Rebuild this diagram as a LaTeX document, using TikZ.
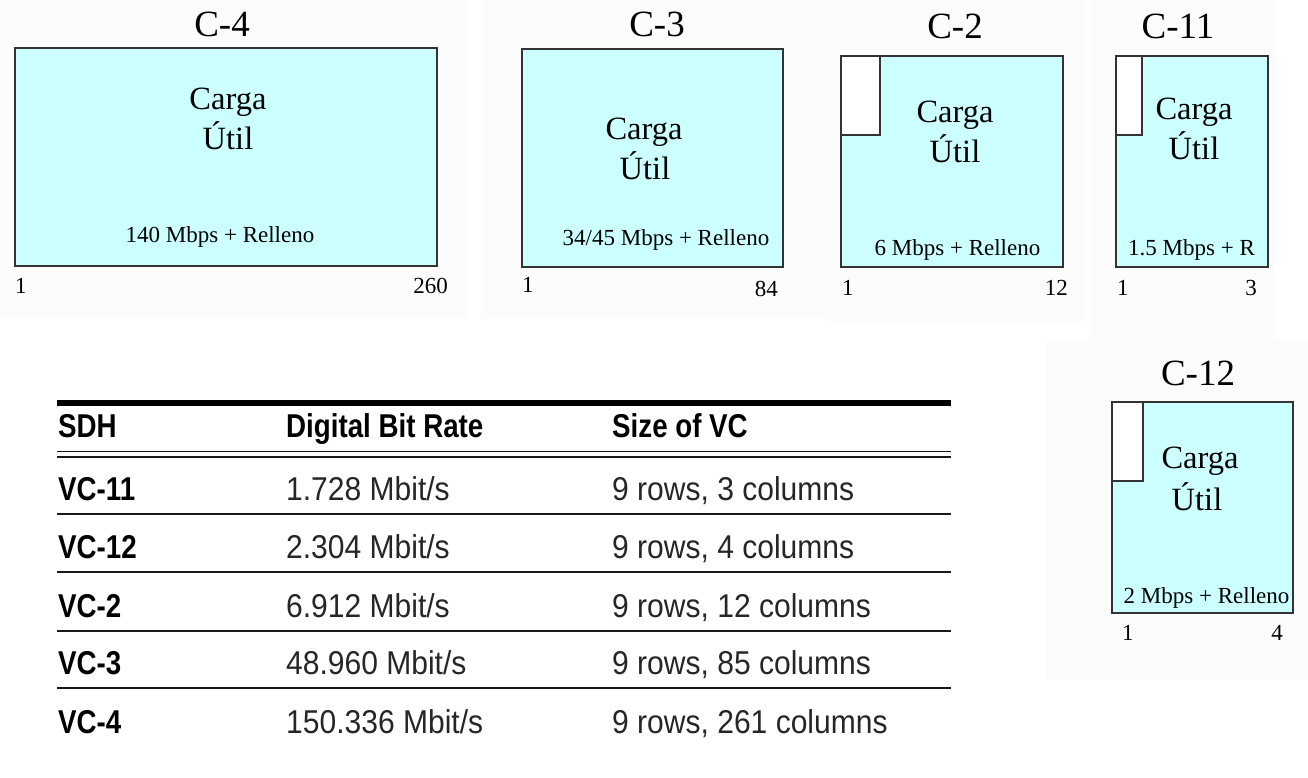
\documentclass[tikz,border=0pt]{standalone}
\usepackage{fontspec}
\setmainfont{Liberation Serif}
\newfontfamily\tabreg[FakeStretch=0.91]{Liberation Sans}
\newfontfamily\tabbold[FakeStretch=0.84]{Liberation Sans Bold}
\definecolor{cargafill}{HTML}{CCFFFF}
\definecolor{boxline}{HTML}{333333}
\definecolor{panel}{HTML}{FCFCFC}
\newcommand{\titlefont}{\fontsize{37}{40}\selectfont}
\newcommand{\cargafont}{\fontsize{32.5}{39}\selectfont}
\newcommand{\smallfont}{\fontsize{23}{26}\selectfont}
\newcommand{\tabfontsize}{\fontsize{33}{36}\selectfont}
\tikzset{
  payload/.style={draw=boxline, line width=1.4pt, fill=cargafill},
  overhead/.style={draw=boxline, line width=1.4pt, fill=white},
  ctitle/.style={anchor=base, inner sep=0pt, font=\titlefont},
  carga/.style={anchor=base, inner sep=0pt, font=\cargafont},
  rate/.style={anchor=base, inner sep=0pt, font=\smallfont},
  numl/.style={anchor=base west, inner sep=0pt, font=\smallfont},
  numr/.style={anchor=base east, inner sep=0pt, font=\smallfont},
  hdr/.style={anchor=base west, inner sep=0pt, font=\tabbold\tabfontsize},
  cell/.style={anchor=base west, inner sep=0pt, text=black!85, font=\tabreg\tabfontsize},
  rule/.style={draw=black!90, line width=1.5pt},
  thickrule/.style={draw=black, line width=5.5pt}
}
\begin{document}
\begin{tikzpicture}[x=1pt,y=-1pt]
\useasboundingbox (0,0) rectangle (1308,778);
% faint background panels
\fill[panel] (0,0) rectangle (468,318);
\fill[panel] (482,0) rectangle (828,318);
\fill[panel] (828,0) rectangle (1085,322);
\fill[panel] (1090,0) rectangle (1275,340);
\fill[panel] (1046,340) rectangle (1308,680);

% C-4
\node[ctitle] (t4) at (222,37) {C-4};
\draw[payload] (15,48) rectangle (437,266);
\node[carga] (c4a) at (228,110) {Carga};
\node[carga] (c4b) at (228,150) {Útil};
\node[rate] (r4) at (220,242) {140 Mbps + Relleno};
\node[numl] (n4a) at (15,293) {1};
\node[numr] (n4b) at (448,293) {260};

% C-3
\node[ctitle] (t3) at (657,37) {C-3};
\draw[payload] (522,49) rectangle (783,267);
\node[carga] (c3a) at (644,140) {Carga};
\node[carga] (c3b) at (645,180) {Útil};
\node[rate] (r3) at (666,245) {34/45 Mbps + Relleno};
\node[numl] (n3a) at (522,292) {1};
\node[numr] (n3b) at (778,296) {84};

% C-2
\node[ctitle] (t2) at (955,39) {C-2};
\draw[payload] (841,56) rectangle (1063,267);
\draw[overhead] (841,56) rectangle (880,135);
\node[carga] (c2a) at (955,123) {Carga};
\node[carga] (c2b) at (955,163) {Útil};
\node[rate] (r2) at (957.5,255) {6 Mbps + Relleno};
\node[numl] (n2a) at (842,295) {1};
\node[numr] (n2b) at (1068,295) {12};

% C-11
\node[ctitle] (t11) at (1178,39) {C-11};
\draw[payload] (1116,56) rectangle (1268,267);
\draw[overhead] (1116,56) rectangle (1142,135);
\node[carga] (c11a) at (1194,120) {Carga};
\node[carga] (c11b) at (1194,160) {Útil};
\node[rate] (r11) at (1191.5,255) {1.5 Mbps + R};
\node[numl] (n11a) at (1117,295) {1};
\node[numr] (n11b) at (1257,295) {3};

% C-12
\node[ctitle] (t12) at (1198,385) {C-12};
\draw[payload] (1112,402) rectangle (1293,613);
\draw[overhead] (1112,402) rectangle (1143,481);
\node[carga] (c12a) at (1200,468) {Carga};
\node[carga] (c12b) at (1197,510) {Útil};
\node[rate] (r12) at (1206.5,603) {2 Mbps + Relleno};
\node[numl] (n12a) at (1122,640) {1};
\node[numr] (n12b) at (1283,640) {4};

% table
\draw[thickrule] (57,403) -- (951,403);
\node[hdr] (h1) at (58,437) {SDH};
\node[hdr] (h2) at (286,437) {Digital Bit Rate};
\node[hdr] (h3) at (612,437) {Size of VC};
\draw[rule] (57,451.5) -- (951,451.5);
\draw[rule] (57,457) -- (951,457);

\node[hdr] (a1) at (58,500) {VC-11};
\node[cell] (b1) at (286,500) {1.728 Mbit/s};
\node[cell] (s1) at (612,500) {9 rows, 3 columns};
\draw[rule] (57,514) -- (951,514);

\node[hdr] (a2) at (58,558) {VC-12};
\node[cell] (b2) at (286,558) {2.304 Mbit/s};
\node[cell] (s2) at (612,558) {9 rows, 4 columns};
\draw[rule] (57,572) -- (951,572);

\node[hdr] (a3) at (58,617) {VC-2};
\node[cell] (b3) at (286,617) {6.912 Mbit/s};
\node[cell] (s3) at (612,617) {9 rows, 12 columns};
\draw[rule] (57,631) -- (951,631);

\node[hdr] (a4) at (58,674) {VC-3};
\node[cell] (b4) at (286,674) {48.960 Mbit/s};
\node[cell] (s4) at (612,674) {9 rows, 85 columns};
\draw[rule] (57,688) -- (951,688);

\node[hdr] (a5) at (58,733) {VC-4};
\node[cell] (b5) at (286,733) {150.336 Mbit/s};
\node[cell] (s5) at (612,733) {9 rows, 261 columns};
\end{tikzpicture}
\end{document}
